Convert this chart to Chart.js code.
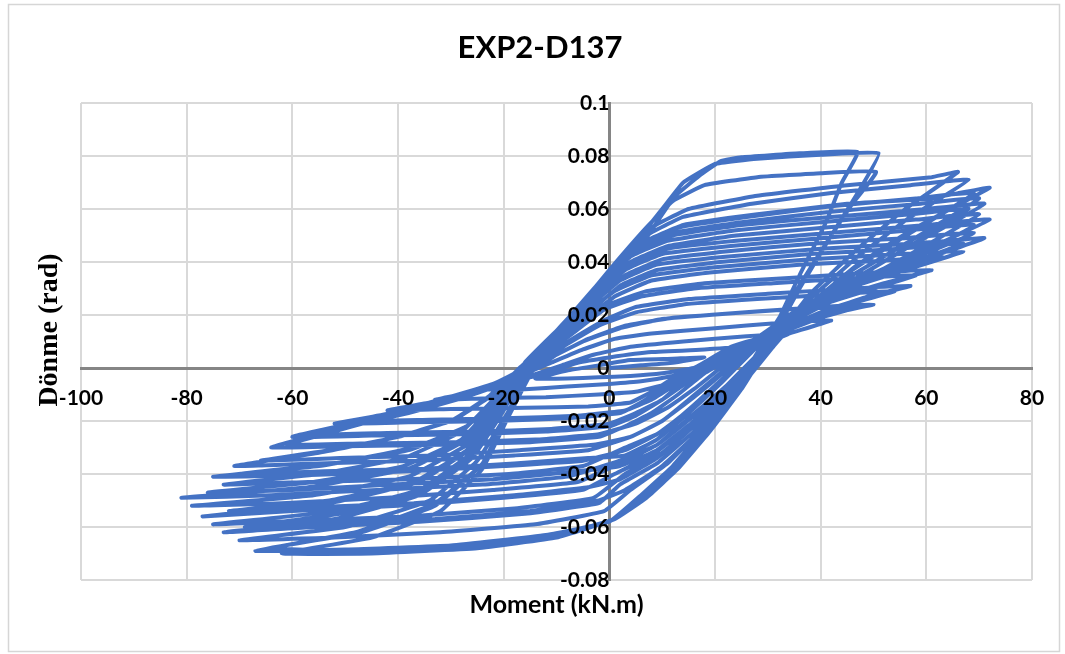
<!DOCTYPE html>
<html>
<head>
<meta charset="utf-8">
<title>EXP2-D137</title>
<script src="https://cdn.jsdelivr.net/npm/chart.js@4.4.1/dist/chart.umd.min.js"></script>
<style>
  html, body { margin: 0; padding: 0; background: #fff; }
  #wrap { width: 1065px; height: 654px; }
</style>
</head>
<body>
<div id="wrap"><canvas id="hysteresisChart"></canvas></div>
<script>
const moment = [
  0, 6, 12, 18, 12, 4, -2, -8, -14, -8, -2, 4,
  10, 16, 21, 26, 18, 8, 0, -6, -12, -18, -24, -16, -8, 0, 6,
  12, 18, 24, 29, 34, 26, 14, 4, -3, -9, -15, -22, -28, -33, -24, -12, -2, 5,
  11, 16, 21, 27, 34, 42, 32, 20, 8, 1, -5, -11, -17, -25, -34, -42, -30, -16, -4, 4,
  8, 12, 17, 23, 33, 41, 50, 40, 26, 12, 3, -4, -10, -14, -20, -30, -41, -52, -38, -22, -8, 2,
  6, 11, 16, 22, 32, 40, 47, 36, 22, 10, 2, -5, -11, -15, -22, -32, -40, -48, -34, -20, -6, 3,
  8, 12, 17, 23, 32, 40, 49, 57, 46, 30, 15, 5, -1, -7, -13, -19, -28, -38, -49, -60, -45, -28, -12, 0,
  5, 10, 15, 21, 31, 39, 47, 54, 44, 28, 14, 5, -2, -8, -14, -20, -29, -38, -47, -55, -42, -26, -11, 0,
  5, 10, 14, 19, 27, 35, 44, 52, 61, 50, 34, 18, 7, 0, -6, -12, -16, -22, -32, -44, -55, -64, -50, -32, -15, -2,
  3, 8, 13, 18, 26, 34, 42, 50, 58, 47, 31, 16, 6, -1, -7, -13, -17, -24, -34, -45, -54, -61, -47, -30, -14, -2,
  5, 11, 16, 21, 27, 35, 45, 56, 67, 55, 38, 20, 8, 1, -6, -12, -17, -22, -29, -40, -55, -71, -55, -36, -18, -4,
  4, 10, 15, 21, 27, 34, 43, 53, 63, 52, 36, 19, 8, 1, -6, -13, -18, -23, -30, -40, -53, -66, -51, -33, -17, -3,
  4, 10, 16, 22, 28, 36, 46, 58, 71, 58, 40, 22, 9, 2, -5, -11, -17, -21, -27, -38, -55, -75, -58, -38, -20, -5,
  3, 9, 15, 21, 28, 36, 45, 56, 67, 55, 38, 21, 9, 2, -5, -12, -17, -21, -27, -37, -52, -70, -54, -35, -18, -4,
  3, 9, 15, 21, 28, 36, 46, 57, 69, 56, 39, 22, 10, 3, -4, -11, -17, -22, -28, -39, -55, -73, -57, -38, -19, -5,
  3, 10, 16, 22, 29, 37, 47, 58, 72, 60, 42, 24, 11, 4, -3, -10, -16, -21, -27, -38, -57, -81, -64, -44, -24, -8,
  2, 9, 15, 22, 29, 37, 47, 57, 69, 57, 40, 23, 10, 3, -4, -11, -17, -22, -28, -39, -56, -76, -60, -41, -22, -6,
  2, 9, 16, 22, 29, 37, 47, 57, 70, 58, 41, 24, 11, 4, -3, -10, -16, -21, -27, -38, -56, -79, -62, -42, -22, -6,
  2, 9, 16, 23, 30, 37, 46, 57, 71, 60, 42, 25, 12, 5, -2, -9, -16, -20, -26, -36, -53, -77, -60, -40, -20, -5,
  1, 8, 15, 22, 29, 37, 46, 56, 68, 57, 40, 24, 11, 4, -3, -10, -16, -21, -27, -37, -53, -72, -56, -37, -18, -4,
  2, 9, 16, 23, 30, 37, 46, 57, 70, 59, 42, 25, 12, 5, -2, -9, -16, -20, -26, -36, -52, -75, -58, -38, -18, -3,
  3, 10, 17, 24, 31, 38, 47, 58, 72, 66, 61, 45, 28, 14, 6, -1, -8, -15, -20, -26, -36, -52, -73, -56, -36, -16, -2,
  2, 9, 16, 23, 30, 37, 46, 57, 69, 58, 42, 26, 13, 6, -1, -8, -15, -20, -26, -36, -51, -69, -52, -33, -15, -2,
  3, 10, 17, 24, 31, 38, 47, 57, 68, 57, 42, 27, 14, 7, 0, -7, -14, -19, -25, -34, -50, -70, -52, -32, -14, -1,
  4, 11, 18, 24, 31, 38, 47, 56, 66, 61, 45, 28, 15, 8, 1, -6, -14, -19, -24, -33, -48, -67, -50, -30, -12, 0,
  6, 12, 18, 24, 29, 35, 41, 46, 50.5, 40, 28, 18, 12, 7, 0, -7, -14, -19, -24, -33, -47, -64, -46, -27, -10, 1,
  7, 13, 19, 25, 30, 36, 42, 47, 51, 40, 28, 20, 14, 10, 6, 0, -7, -14, -19, -24, -32, -45, -62, -45, -25, -10, 1,
  8, 14, 20, 26, 31, 36, 41, 44, 47, 36, 25, 21, 17, 12.5, 9, 6
];
const rotation = [
  0, 0.001, 0.002, 0.004, 0.0035, 0.003, 0.001, -0.001, -0.004, -0.004, -0.0035, -0.003,
  -0.002, 0, 0.004, 0.008, 0.007, 0.006, 0.004, 0.002, -0.002, -0.005, -0.008, -0.008, -0.007, -0.006, -0.005,
  -0.003, 0, 0.004, 0.009, 0.013, 0.012, 0.01, 0.008, 0.005, 0.001, -0.003, -0.007, -0.01, -0.012, -0.0115, -0.011, -0.01, -0.009,
  -0.006, -0.002, 0.003, 0.008, 0.013, 0.018, 0.017, 0.015, 0.013, 0.011, 0.007, 0.002, -0.003, -0.008, -0.013, -0.016, -0.0155, -0.015, -0.0145, -0.013,
  -0.009, -0.004, 0.001, 0.008, 0.014, 0.02, 0.024, 0.023, 0.021, 0.019, 0.016, 0.011, 0.005, 0, -0.006, -0.012, -0.017, -0.021, -0.0205, -0.02, -0.019, -0.017,
  -0.013, -0.007, -0.001, 0.006, 0.013, 0.019, 0.023, 0.0225, 0.0205, 0.0185, 0.015, 0.01, 0.004, -0.001, -0.007, -0.013, -0.017, -0.02, -0.0195, -0.019, -0.018, -0.016,
  -0.012, -0.007, -0.001, 0.006, 0.014, 0.021, 0.027, 0.031, 0.03, 0.028, 0.026, 0.023, 0.018, 0.011, 0.003, -0.004, -0.01, -0.016, -0.021, -0.026, -0.0255, -0.025, -0.024, -0.022,
  -0.018, -0.012, -0.005, 0.003, 0.012, 0.019, 0.025, 0.029, 0.028, 0.026, 0.024, 0.021, 0.016, 0.009, 0.001, -0.006, -0.012, -0.017, -0.021, -0.025, -0.0245, -0.024, -0.023, -0.021,
  -0.017, -0.012, -0.005, 0.002, 0.01, 0.019, 0.027, 0.032, 0.037, 0.036, 0.034, 0.032, 0.029, 0.024, 0.015, 0.006, 0, -0.006, -0.012, -0.019, -0.025, -0.03, -0.0295, -0.029, -0.028, -0.026,
  -0.022, -0.017, -0.01, -0.002, 0.007, 0.017, 0.025, 0.03, 0.035, 0.034, 0.032, 0.03, 0.027, 0.022, 0.013, 0.004, -0.002, -0.008, -0.014, -0.02, -0.025, -0.029, -0.0285, -0.028, -0.027, -0.025,
  -0.021, -0.015, -0.008, 0, 0.01, 0.021, 0.03, 0.037, 0.044, 0.043, 0.041, 0.038, 0.035, 0.029, 0.018, 0.008, 0, -0.01, -0.019, -0.026, -0.032, -0.037, -0.036, -0.035, -0.033, -0.031,
  -0.026, -0.02, -0.012, -0.002, 0.009, 0.02, 0.029, 0.036, 0.042, 0.0405, 0.039, 0.036, 0.033, 0.027, 0.016, 0.006, -0.002, -0.011, -0.02, -0.026, -0.031, -0.035, -0.034, -0.033, -0.031, -0.029,
  -0.026, -0.02, -0.011, -0.001, 0.01, 0.022, 0.032, 0.04, 0.049, 0.047, 0.045, 0.042, 0.039, 0.033, 0.021, 0.01, 0, -0.01, -0.022, -0.031, -0.037, -0.041, -0.0405, -0.039, -0.037, -0.035,
  -0.031, -0.025, -0.016, -0.005, 0.008, 0.021, 0.031, 0.039, 0.047, 0.045, 0.043, 0.04, 0.037, 0.031, 0.019, 0.008, -0.001, -0.011, -0.022, -0.03, -0.036, -0.04, -0.039, -0.038, -0.036, -0.034,
  -0.033, -0.027, -0.017, -0.006, 0.008, 0.021, 0.032, 0.041, 0.051, 0.049, 0.047, 0.044, 0.041, 0.035, 0.023, 0.009, -0.001, -0.012, -0.024, -0.034, -0.04, -0.044, -0.043, -0.042, -0.04, -0.037,
  -0.03, -0.024, -0.014, -0.003, 0.01, 0.022, 0.033, 0.043, 0.056, 0.054, 0.051, 0.048, 0.045, 0.039, 0.027, 0.013, 0.001, -0.013, -0.027, -0.038, -0.045, -0.049, -0.048, -0.046, -0.044, -0.041,
  -0.035, -0.029, -0.019, -0.007, 0.007, 0.02, 0.031, 0.041, 0.054, 0.052, 0.049, 0.046, 0.043, 0.037, 0.025, 0.011, -0.001, -0.014, -0.027, -0.037, -0.043, -0.047, -0.046, -0.044, -0.042, -0.039,
  -0.037, -0.031, -0.02, -0.008, 0.007, 0.02, 0.032, 0.043, 0.058, 0.056, 0.053, 0.05, 0.046, 0.04, 0.028, 0.013, 0, -0.014, -0.029, -0.041, -0.048, -0.052, -0.051, -0.049, -0.046, -0.043,
  -0.036, -0.029, -0.018, -0.006, 0.008, 0.02, 0.033, 0.046, 0.062, 0.06, 0.057, 0.054, 0.05, 0.044, 0.031, 0.016, 0.002, -0.014, -0.03, -0.043, -0.051, -0.056, -0.054, -0.052, -0.049, -0.046,
  -0.04, -0.033, -0.022, -0.009, 0.006, 0.02, 0.033, 0.045, 0.06, 0.058, 0.055, 0.052, 0.048, 0.042, 0.029, 0.014, 0, -0.015, -0.031, -0.043, -0.05, -0.054, -0.0525, -0.051, -0.048, -0.045,
  -0.042, -0.034, -0.022, -0.009, 0.007, 0.021, 0.035, 0.048, 0.064, 0.062, 0.059, 0.055, 0.051, 0.045, 0.032, 0.016, 0.001, -0.015, -0.032, -0.046, -0.054, -0.059, -0.0575, -0.056, -0.053, -0.049,
  -0.04, -0.032, -0.02, -0.007, 0.008, 0.024, 0.039, 0.053, 0.068, 0.066, 0.064, 0.062, 0.058, 0.054, 0.047, 0.034, 0.018, 0.003, -0.016, -0.034, -0.048, -0.057, -0.062, -0.06, -0.058, -0.055, -0.051,
  -0.044, -0.036, -0.024, -0.01, 0.006, 0.022, 0.037, 0.051, 0.066, 0.064, 0.061, 0.057, 0.053, 0.046, 0.033, 0.017, 0.002, -0.016, -0.033, -0.047, -0.055, -0.06, -0.0585, -0.057, -0.054, -0.05,
  -0.046, -0.037, -0.024, -0.009, 0.008, 0.026, 0.042, 0.057, 0.071, 0.069, 0.066, 0.062, 0.057, 0.05, 0.036, 0.02, 0.003, -0.016, -0.035, -0.05, -0.06, -0.065, -0.064, -0.062, -0.059, -0.054,
  -0.046, -0.036, -0.022, -0.007, 0.01, 0.028, 0.045, 0.06, 0.074, 0.072, 0.069, 0.065, 0.06, 0.053, 0.039, 0.022, 0.004, -0.016, -0.036, -0.051, -0.062, -0.069, -0.0685, -0.067, -0.063, -0.058,
  -0.048, -0.037, -0.023, -0.007, 0.009, 0.028, 0.047, 0.062, 0.074, 0.0735, 0.072, 0.069, 0.063, 0.053, 0.037, 0.02, 0.002, -0.017, -0.036, -0.052, -0.062, -0.068, -0.069, -0.067, -0.063, -0.057,
  -0.049, -0.038, -0.024, -0.008, 0.008, 0.03, 0.05, 0.066, 0.081, 0.0805, 0.079, 0.077, 0.07, 0.06, 0.05, 0.036, 0.018, 0.001, -0.018, -0.038, -0.054, -0.064, -0.07, -0.07, -0.068, -0.064, -0.057,
  -0.046, -0.034, -0.02, -0.003, 0.014, 0.035, 0.055, 0.07, 0.0815, 0.081, 0.0795, 0.078, 0.0725, 0.065, 0.055, 0.046
];

const xTicks = [-100, -80, -60, -40, -20, 0, 20, 40, 60, 80];
const yTicks = [-0.08, -0.06, -0.04, -0.02, 0, 0.02, 0.04, 0.06, 0.08, 0.1];

const points = moment.map((m, i) => ({ x: m, y: rotation[i] }));

// frame, title and axis titles (the axes sit on the zero lines, so titles are drawn by hand)
const chartText = {
  id: 'chartText',
  beforeDraw(chart) {
    const ctx = chart.ctx;
    ctx.save();
    ctx.fillStyle = '#fff';
    ctx.fillRect(0, 0, chart.width, chart.height);
    ctx.strokeStyle = '#d6d6d6';
    ctx.lineWidth = 1.5;
    ctx.strokeRect(8.5, 4.5, 1051, 647);
    ctx.restore();
  },
  afterDraw(chart) {
    const ctx = chart.ctx;
    const area = chart.chartArea;
    ctx.save();
    ctx.fillStyle = '#000';
    ctx.textAlign = 'center';
    ctx.textBaseline = 'middle';
    ctx.font = 'bold 31px Lato';
    ctx.fillText('EXP2-D137', 540, 48);
    ctx.font = 'bold 25px Lato';
    ctx.fillText('Moment (kN.m)', (area.left + area.right) / 2, 605);
    ctx.translate(50, 330);
    ctx.rotate(-Math.PI / 2);
    ctx.font = 'bold 28px "Liberation Serif"';
    ctx.fillText('Dönme (rad)', 0, 0);
    ctx.restore();
  }
};

const tickFont = { family: 'Lato', size: 21, weight: 'bold' };

const config = {
  type: 'scatter',
  data: {
    datasets: [{
      label: 'EXP2-D137',
      data: points,
      showLine: true,
      borderColor: '#4472c4',
      backgroundColor: '#4472c4',
      borderWidth: 4,
      pointRadius: 0,
      tension: 0.1
    }]
  },
  options: {
    responsive: true,
    maintainAspectRatio: false,
    animation: false,
    layout: { padding: { left: 81, right: 33, top: 103, bottom: 74 } },
    plugins: {
      legend: { display: false },
      title: { display: false },
      tooltip: { enabled: false }
    },
    scales: {
      x: {
        type: 'linear',
        min: xTicks[0],
        max: xTicks[xTicks.length - 1],
        position: { y: 0 },
        afterBuildTicks: (scale) => { scale.ticks = xTicks.map(v => ({ value: v })); },
        ticks: { padding: 18, z: 1, color: '#000', font: tickFont, autoSkip: false, maxRotation: 0 },
        grid: { color: '#d9d9d9', lineWidth: 2, drawTicks: false },
        border: { color: '#858585', width: 3 }
      },
      y: {
        type: 'linear',
        min: yTicks[0],
        max: yTicks[yTicks.length - 1],
        position: { x: 0 },
        afterBuildTicks: (scale) => { scale.ticks = yTicks.map(v => ({ value: v })); },
        ticks: {
          padding: 22, z: 1, color: '#000', font: tickFont, autoSkip: false,
          callback: (v) => String(Number(v.toFixed(2)))
        },
        grid: { color: '#d9d9d9', lineWidth: 2, drawTicks: false },
        border: { color: '#858585', width: 3 }
      }
    }
  },
  plugins: [chartText]
};

const hysteresisChart = new Chart(document.getElementById('hysteresisChart'), config);
</script>
</body>
</html>
